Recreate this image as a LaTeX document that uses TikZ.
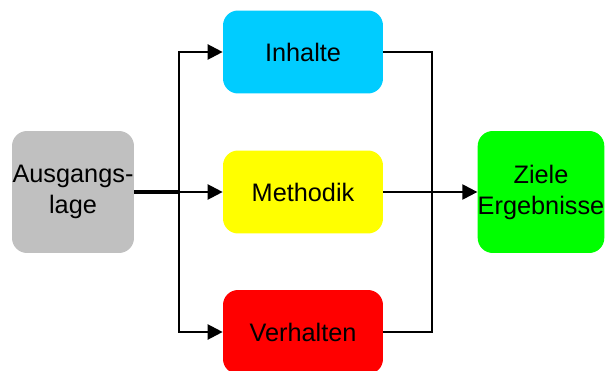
\documentclass[tikz,border=0pt]{standalone}
\usepackage{fontspec}
\setmainfont{Liberation Sans}
\usetikzlibrary{arrows.meta}
\definecolor{boxgray}{HTML}{C0C0C0}
\definecolor{boxcyan}{HTML}{00CCFF}
\definecolor{boxyellow}{HTML}{FFFF00}
\definecolor{boxred}{HTML}{FF0000}
\definecolor{boxgreen}{HTML}{00FF00}
\tikzset{
  box/.style={rounded corners=0.3cm, inner sep=0pt, align=center,
    font=\fontsize{14.4}{17.6}\selectfont, minimum width=3.2cm, minimum height=1.66cm},
  sqbox/.style={box, minimum width=2.44cm, minimum height=2.44cm},
  link/.style={line width=1.3pt},
  biglink/.style={line width=2.3pt},
  arr/.style={link, -{Triangle[length=0.3cm,width=0.3cm]}}
}
\begin{document}
\begin{tikzpicture}[x=0.02cm,y=-0.02cm]
      \clip (0,0) rectangle (608,371);
      \draw
        (73,192) node[sqbox, fill=boxgray] (ausgang){Ausgangs-\\lage}
        (303,52) node[box, fill=boxcyan] (inhalte){Inhalte}
        (303,192) node[box, fill=boxyellow] (methodik){Methodik}
        (303,332) node[box, minimum height=1.68cm, fill=boxred] (verhalten){Verhalten}
        (541,192) node[sqbox, fill=boxgreen] (ziele){Ziele\\Ergebnisse};
      \coordinate (split) at (179,192);
      \coordinate (join) at (432,192);
      \begin{scope}
        \draw[biglink] (ausgang) to (split);
        \draw[arr] (split) |- (inhalte);
        \draw[arr] (split) to (methodik);
        \draw[arr] (split) |- (verhalten);
        \draw[link] (inhalte) -| (join);
        \draw[link] (verhalten) -| (join);
        \draw[arr] (methodik) to (ziele);
      \end{scope}
    \end{tikzpicture}
\end{document}
